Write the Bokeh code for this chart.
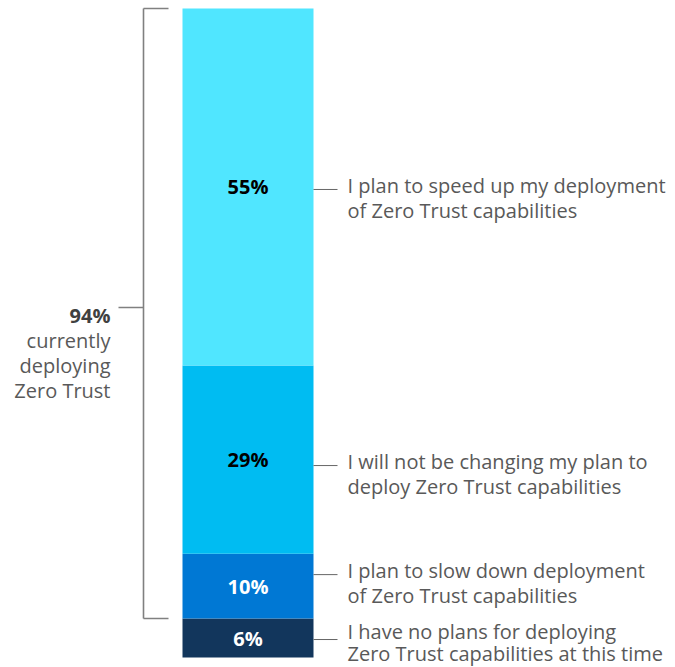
from bokeh.plotting import figure
from bokeh.models import Range1d, ColumnDataSource
from bokeh.core.properties import value
from bokeh.embed import file_html
from bokeh.resources import INLINE

# ---- data ----
shares = [6, 10, 29, 55]
share_labels = ["6%", "10%", "29%", "55%"]
seg_colors = ["#12365C", "#0078D4", "#00BCF2", "#50E6FF"]
pct_colors = ["white", "white", "black", "black"]
label_line1 = [
    "I have no plans for deploying",
    "I plan to slow down deployment",
    "I will not be changing my plan to",
    "I plan to speed up my deployment",
]
label_line2 = [
    "Zero Trust capabilities at this time",
    "of Zero Trust capabilities",
    "deploy Zero Trust capabilities",
    "of Zero Trust capabilities",
]
deploying_total = 94
deploying_label = "94%"
deploying_text = ["currently", "deploying", "Zero Trust"]

# ---- layout ----
W, H = 675, 667
PX = 649 / 100.0            # pixels per percent
y0 = -(H - 657) / PX
y1 = y0 + H / PX
FONT = "Open Sans"
FS = "20px"
TXT = "#595959"

p = figure(width=W, height=H, x_range=Range1d(0, W), y_range=Range1d(y0, y1),
           output_backend="svg", toolbar_location=None, min_border=0,
           x_axis_type=None, y_axis_type=None)
p.grid.visible = False
p.outline_line_color = None

bottoms, tops, mids = [], [], []
acc = 0
for s in shares:
    bottoms.append(acc)
    tops.append(acc + s)
    mids.append(acc + s / 2)
    acc += s

bar_x = 247.5
src = ColumnDataSource(dict(bottom=bottoms, top=tops, mid=mids, color=seg_colors,
                            lab=share_labels, pc=pct_colors))
p.vbar(x=bar_x, width=131, bottom="bottom", top="top", color="color",
       line_color=None, source=src)
p.text(x=bar_x, y="mid", text="lab", text_color="pc", text_align="center",
       text_baseline="middle", text_font=value(FONT), text_font_size=FS,
       text_font_style="bold", source=src)

# leader lines and right labels
leader_px = [1.5, -11.5, 6, 2.5]
leader_y = [m - d / PX for m, d in zip(mids, leader_px)]
p.segment(x0=313, x1=337, y0=leader_y, y1=leader_y, line_color="#666666", line_width=1)
p.text(x=347, y=leader_y, text=label_line1, y_offset=[-8, -4, -4, -4], text_color=TXT,
       text_align="left", text_baseline="alphabetic", text_font=value(FONT),
       text_font_size=FS)
p.text(x=347, y=leader_y, text=label_line2, y_offset=[14, 21, 21, 21], text_color=TXT,
       text_align="left", text_baseline="alphabetic", text_font=value(FONT),
       text_font_size=FS)

# bracket
b_bot = 100 - deploying_total
b_top = 100
bx = 143
p.segment(x0=[bx, bx, bx], x1=[bx, 168, 168], y0=[b_bot, b_top, b_bot],
          y1=[b_top, b_top, b_bot], line_color="#808080", line_width=1.6)
b_mid = (b_bot + b_top) / 2 + 6 / PX
p.segment(x0=118, x1=bx, y0=b_mid, y1=b_mid, line_color="#808080", line_width=1.6)
p.text(x=110, y=b_mid, text=[deploying_label], y_offset=8, text_color="#404040",
       text_align="right", text_baseline="alphabetic", text_font=value(FONT),
       text_font_size=FS, text_font_style="bold")
p.text(x=110, y=b_mid, text=deploying_text, y_offset=[33, 58, 83],
       text_color=TXT, text_align="right", text_baseline="alphabetic",
       text_font=value(FONT), text_font_size=FS)

open("out.html", "w").write(file_html(p, INLINE))
